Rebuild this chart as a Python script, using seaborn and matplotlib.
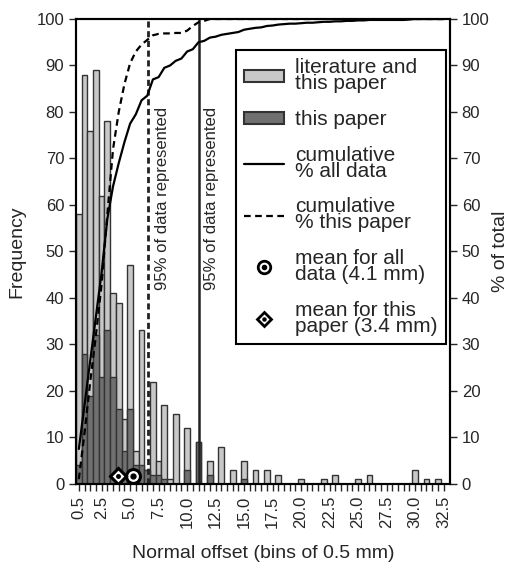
import numpy as np
import matplotlib
matplotlib.use("Agg")
import matplotlib.pyplot as plt
import seaborn as sns
from matplotlib.patches import Patch
from matplotlib.lines import Line2D
from matplotlib.legend_handler import HandlerTuple

# -------------------------------------------------
# DATA (bins of 0.5 mm, 0.5 ... 32.5)
# -------------------------------------------------
bins = [f"{0.5 * (i + 1):.1f}" for i in range(65)]
shown_labels = ["0.5", "2.5", "5.0", "7.5", "10.0", "12.5", "15.0", "17.5",
                "20.0", "22.5", "25.0", "27.5", "30.0", "32.5"]

all_counts = [58, 88, 76, 89, 62, 78, 41, 39, 14, 47,
              7, 33, 3, 22, 5, 17, 1, 15, 0, 12,
              0, 9, 0, 5, 0, 8, 0, 3, 0, 5,
              0, 3, 0, 3, 0, 2, 0, 0, 0, 1,
              0, 0, 0, 1, 0, 2, 0, 0, 0, 1,
              0, 2, 0, 0, 0, 0, 0, 0, 0, 3,
              0, 1, 0, 1, 0]

paper_counts = [4, 28, 19, 32, 23, 33, 23, 16, 7, 16,
                4, 4, 3, 2, 2, 1, 0, 0, 0, 3,
                0, 9, 0, 2, 0, 0, 0, 0, 0, 1,
                0, 0, 0, 0, 0, 0, 0, 0, 0, 0,
                0, 0, 0, 0, 0, 0, 0, 0, 0, 0,
                0, 0, 0, 0, 0, 0, 0, 0, 0, 0,
                0, 0, 0, 0, 0]

cum_all = [7.5, 17, 26.5, 36, 45.5, 57, 64, 69, 73.5, 77.5,
           79.5, 82.5, 83.5, 87, 87.5, 89.5, 90, 91, 91.5, 93,
           93.5, 95, 95.3, 96, 96.2, 96.6, 96.8, 97, 97.2, 97.7,
           97.9, 98.1, 98.2, 98.5, 98.6, 98.8, 98.9, 99.0, 99.0, 99.1,
           99.2, 99.2, 99.3, 99.4, 99.4, 99.5, 99.5, 99.6, 99.6, 99.7,
           99.7, 99.8, 99.8, 99.8, 99.8, 99.8, 99.8, 99.8, 99.9, 100,
           100, 100, 100, 100, 100]

cum_paper = [1, 11, 22, 32, 43, 58, 72, 80, 86, 90.5,
             93, 94.5, 95.5, 96.5, 96.8, 96.9, 96.9, 97, 97, 97.5,
             98.5, 99.3, 99.6, 100, 100, 100, 100, 100, 100, 100,
             100, 100, 100, 100, 100, 100, 100, 100, 100, 100,
             100, 100, 100, 100, 100, 100, 100, 100, 100, 100,
             100, 100, 100, 100, 100, 100, 100, 100, 100, 100,
             100, 100, 100, 100, 100]

# 95 % lines and mean markers (positions in mm as drawn)
line95_paper = 6.6
line95_all = 11.0
mean_all_x = 5.25
mean_paper_x = 3.9
marker_y = 1.6

LIGHT = "#c8c8c8"
DARK = "#707070"
EDGE = "#333333"


def mm_to_pos(mm):
    return (mm - 0.5) / 0.5


# -------------------------------------------------
# PLOT
# -------------------------------------------------
sns.set_style("ticks")
plt.rcParams["font.family"] = ["Liberation Sans", "DejaVu Sans"]

fig = plt.figure(figsize=(5.1, 5.76), dpi=100)
ax = fig.add_axes([0.149, 0.160, 0.733, 0.807])

sns.barplot(x=bins, y=all_counts, color=LIGHT, edgecolor=EDGE, linewidth=1.0,
            width=1.0, saturation=1, ax=ax)
sns.barplot(x=bins, y=paper_counts, color=DARK, edgecolor=EDGE, linewidth=1.0,
            width=1.0, saturation=1, ax=ax)

pos = np.arange(len(bins))

ax.axvline(mm_to_pos(line95_paper), color="#222222", lw=2.0, ls=(0, (2.2, 1.3)))
ax.axvline(mm_to_pos(line95_all), color="#222222", lw=1.8)
ax.text(mm_to_pos(line95_paper) + 1.1, 41.7, "95% of data represented",
        rotation=90, ha="left", va="bottom", fontsize=12)
ax.text(mm_to_pos(line95_all) + 1.0, 41.7, "95% of data represented",
        rotation=90, ha="left", va="bottom", fontsize=12)

ax.set_xlim(-0.5, 65.1)
ax.set_ylim(0, 100)
ax.set_yticks(range(0, 101, 10))
ax.set_xticks(pos)
ax.set_xticklabels([b if b in shown_labels else "" for b in bins],
                   rotation=90, fontsize=12)
ax.tick_params(axis="y", labelsize=12, length=5, width=1)
ax.tick_params(axis="x", length=5, width=1)
ax.set_xlabel("Normal offset (bins of 0.5 mm)", fontsize=14, labelpad=12)
ax.set_ylabel("Frequency", fontsize=14, labelpad=8)

ax2 = ax.twinx()
sns.lineplot(x=pos, y=cum_all, color="black", lw=1.6, ax=ax2)
sns.lineplot(x=pos, y=cum_paper, color="black", lw=1.6, ls=(0, (3, 2)), ax=ax2)
ax2.set_ylim(0, 100)
ax2.set_yticks(range(0, 101, 10))
ax2.tick_params(axis="y", labelsize=12, length=5, width=1)
ax2.set_ylabel("% of total", fontsize=14, labelpad=2)

# mean markers
ax.plot(mm_to_pos(mean_all_x), marker_y, marker="o", ms=10, mfc="white",
        mec="black", mew=2.2, zorder=5)
ax.plot(mm_to_pos(mean_all_x), marker_y, marker="o", ms=3.5, color="black", zorder=6)
ax.plot(mm_to_pos(mean_paper_x), marker_y, marker="D", ms=8, mfc="white",
        mec="black", mew=2.2, zorder=5)
ax.plot(mm_to_pos(mean_paper_x), marker_y, marker="o", ms=2.5, color="black", zorder=6)

for a in (ax, ax2):
    for s in a.spines.values():
        s.set_visible(True)
        s.set_linewidth(1.5)
        s.set_color("black")

# -------------------------------------------------
# LEGEND
# -------------------------------------------------
h_circle = (Line2D([], [], marker="o", ms=9, mfc="white", mec="black", mew=2, ls=""),
            Line2D([], [], marker="o", ms=3, color="black", ls=""))
h_diamond = (Line2D([], [], marker="D", ms=7, mfc="white", mec="black", mew=2, ls=""),
             Line2D([], [], marker="o", ms=2.2, color="black", ls=""))
handles = [Patch(facecolor=LIGHT, edgecolor=EDGE, lw=1.5),
           Patch(facecolor=DARK, edgecolor=EDGE, lw=1.5),
           Line2D([], [], color="black", lw=1.6),
           Line2D([], [], color="black", lw=1.6, ls=(0, (3, 2))),
           h_circle, h_diamond]
labels = ["literature and\nthis paper", "this paper", "cumulative\n% all data",
          "cumulative\n% this paper", "mean for all\ndata (4.1 mm)",
          "mean for this\npaper (3.4 mm)"]
leg = ax2.legend(handles, labels, loc="upper right", bbox_to_anchor=(0.99, 0.933),
                 borderaxespad=0, fontsize=15, frameon=True, fancybox=False,
                 framealpha=1, edgecolor="black", handlelength=1.9,
                 handleheight=0.55, handletextpad=0.55, labelspacing=0.8,
                 borderpad=0.4, handler_map={tuple: HandlerTuple(ndivide=1)})
leg.get_frame().set_linewidth(1.5)
for t in leg.get_texts():
    t.set_linespacing(0.8)

fig.savefig("out.png", dpi=100)
plt.close()
